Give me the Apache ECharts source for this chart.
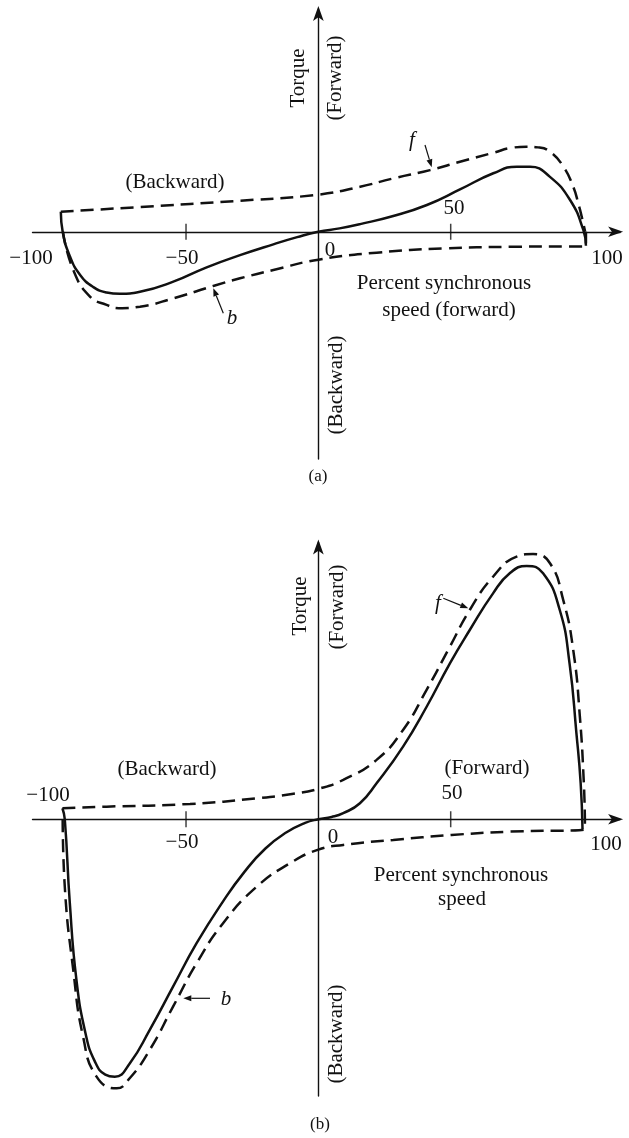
<!DOCTYPE html>
<html>
<head>
<meta charset="utf-8">
<title>Torque vs speed</title>
<script src="https://cdn.jsdelivr.net/npm/echarts@6/dist/echarts.min.js"></script>
<style>
  html, body { margin: 0; padding: 0; background: #fff; }
  #main { width: 629px; height: 1138px; }
</style>
</head>
<body>
<div id="main"></div>
<script>
// (a) percent synchronous speed vs torque, [speed, torque]
var fwdA = [[-97.3, 8.9], [-67.4, 11.0], [-29.6, 13.8], [0, 16.5], [15.8, 20.0], [28.3, 23.7], [42.2, 27.4], [53.5, 31.1], [66.1, 35.1], [73, 37.3], [78.7, 37.8], [83, 37.5], [87.5, 35.6], [92.6, 28.9], [96.3, 20], [98.2, 12.6], [99.5, 6.7], [100.8, 0]]
var resA = [[-97.3, 8.9], [-96.6, 0], [-93.8, -11.1], [-90, -19.2], [-85, -24.6], [-80, -27], [-75, -27.6], [-67.4, -26.7], [-54.8, -22.2], [-42.2, -15.8], [-29.6, -10.4], [-17, -5.6], [-8, -2.4], [0, 0], [8, 1.5], [15.8, 3.4], [28.3, 7.0], [41, 11.9], [53.5, 18.8], [66.1, 26], [75, 28.9], [80, 28.9], [87.5, 24.4], [95.1, 14.1], [100.1, 0.8], [101.1, -6.2]]
var bwdA = [[-96.5, 0], [-92.6, -17], [-86.2, -28.9], [-80, -32.5], [-75.4, -34], [-67.4, -33.3], [-54.8, -29.6], [-39.7, -24.1], [-29.6, -20.7], [-17, -17], [0, -12.4], [22, -9.3], [47.2, -7.4], [72.4, -6.7], [101.1, -6.4], [101.1, 0]]

// (b)
var fwdB = [[-96.7, 4.9], [-80, 5.6], [-48.5, 6.8], [-23.3, 9.3], [-10, 11.2], [0, 13.5], [9.4, 17.5], [22, 26.4], [32, 39.7], [40.9, 57.5], [49.7, 76.7], [57.2, 93], [66, 107.8], [74.9, 116.7], [81.1, 117.9], [87.5, 113.8], [92.5, 97.5], [96.3, 75.2], [98.8, 45.6], [100.3, 16.1], [100.7, 0]]
var resB = [[-96.7, 4.9], [-95.8, 0], [-93.9, -37.3], [-91.4, -71.4], [-88, -95], [-84.5, -107.5], [-80.5, -113.5], [-76.9, -114.4], [-71.2, -108.4], [-63.7, -93.6], [-54.9, -74.4], [-46, -55.1], [-36, -36.5], [-28, -23.5], [-20, -13], [-12, -5.8], [-5, -1.6], [0, 0], [5, 1.0], [9.4, 2.7], [15.7, 7.1], [22, 16], [32, 32.3], [40.9, 50], [49.7, 69.3], [57.2, 84.1], [66, 100.4], [72.3, 109.3], [78.7, 112.6], [84.9, 109.3], [91.2, 93], [94.9, 69.3], [97.5, 38.2], [99.1, 16], [99.8, -4.4]]
var bwdB = [[-96.6, 0], [-95.8, -30], [-92.6, -67], [-88.9, -96.6], [-83.8, -114.4], [-76.2, -119.6], [-71.2, -115], [-63.7, -102.5], [-54.9, -83.3], [-46, -64], [-36, -46.2], [-23.3, -30], [-10.8, -19.6], [0, -13.5], [9.4, -11.4], [28.3, -9.2], [50.3, -7], [72.3, -5.5], [100.7, -4.4], [100.7, 0]]

var tickVals = [-50, 50]
var tickLabels = ['\u2212100', '\u221250', '0', '50', '100']

var FONT = '"Liberation Serif", "DejaVu Serif", serif'
var INK = '#111'

var chart = echarts.init(document.getElementById('main'), null, { renderer: 'canvas' })

function axes(gi, ymin, ymax) {
  var line = { onZero: true, symbol: ['none', 'arrow'], symbolSize: [8, 15], symbolOffset: [0, 3], lineStyle: { color: INK, width: 1.4 } }
  return {
    x: {
      type: 'value', gridIndex: gi, min: -108, max: 114, axisLine: line,
      axisTick: { show: false }, axisLabel: { show: false }, splitLine: { show: false }
    },
    y: {
      type: 'value', gridIndex: gi, min: ymin, max: ymax, axisLine: line,
      axisTick: { show: false }, axisLabel: { show: false }, splitLine: { show: false }
    }
  }
}

var axA = axes(0, -101, 99)
var axB = axes(1, -123, 123)

function curve(name, data, gi, dashed) {
  return {
    name: name, type: 'line', xAxisIndex: gi, yAxisIndex: gi,
    data: data, showSymbol: false, smooth: 0.5, silent: true,
    lineStyle: { color: INK, width: 2.5, type: dashed ? [13, 7] : 'solid' }
  }
}

function ticks(gi) {
  return {
    type: 'scatter', xAxisIndex: gi, yAxisIndex: gi, silent: true,
    symbol: 'rect', symbolSize: [1.5, 16],
    itemStyle: { color: INK },
    data: tickVals.map(function (v) { return [v, 0] })
  }
}

function txt(s, x, y, opt) {
  opt = opt || {}
  return {
    type: 'text', x: x, y: y, rotation: opt.rot || 0, silent: true,
    style: {
      text: s, fill: INK, align: 'center', verticalAlign: 'middle',
      font: (opt.italic ? 'italic ' : '') + (opt.size || 21) + 'px ' + FONT
    }
  }
}

// small annotation arrow, head at (x2, y2)
function arrow(x1, y1, x2, y2) {
  var a = Math.atan2(y2 - y1, x2 - x1)
  var L = 8, W = 3
  var bx = x2 - L * Math.cos(a), by = y2 - L * Math.sin(a)
  return [
    { type: 'line', silent: true, shape: { x1: x1, y1: y1, x2: bx, y2: by }, style: { stroke: INK, lineWidth: 1.2 } },
    { type: 'polygon', silent: true, shape: { points: [[x2, y2], [bx + W * Math.sin(a), by - W * Math.cos(a)], [bx - W * Math.sin(a), by + W * Math.cos(a)]] }, style: { fill: INK } }
  ]
}

var R = Math.PI / 2
var graphics = [
  // (a)
  txt('Torque', 298, 78, { rot: R }),
  txt('(Forward)', 335, 78, { rot: R }),
  txt('(Backward)', 336, 385, { rot: R }),
  txt('(Backward)', 175, 182),
  txt('f', 412, 140, { italic: true }),
  txt('b', 232, 318, { italic: true }),
  txt(tickLabels[0], 31, 258),
  txt(tickLabels[1], 182, 258),
  txt(tickLabels[2], 330, 250),
  txt(tickLabels[3], 454, 208),
  txt(tickLabels[4], 607, 258),
  txt('Percent synchronous', 444, 283),
  txt('speed (forward)', 449, 310),
  txt('(a)', 318, 477, { size: 17 }),
  // (b)
  txt('Torque', 300, 606, { rot: R }),
  txt('(Forward)', 337, 607, { rot: R }),
  txt('(Backward)', 336, 1034, { rot: R }),
  txt('(Backward)', 167, 769),
  txt('(Forward)', 487, 768),
  txt('f', 438, 603, { italic: true }),
  txt('b', 226, 999, { italic: true }),
  txt(tickLabels[0], 48, 795),
  txt(tickLabels[1], 182, 842),
  txt(tickLabels[2], 333, 837),
  txt(tickLabels[3], 452, 793),
  txt(tickLabels[4], 606, 844),
  txt('Percent synchronous', 461, 875),
  txt('speed', 462, 899),
  txt('(b)', 320, 1125, { size: 17 })
]
graphics = graphics.concat(arrow(425, 145, 431.7, 167.3))
graphics = graphics.concat(arrow(223.3, 313.3, 213.3, 288.3))
graphics = graphics.concat(arrow(443.3, 598.3, 468.3, 608.3))
graphics = graphics.concat(arrow(210, 998.3, 183.3, 998.3))

var option = {
  backgroundColor: '#fff',
  animation: false,
  grid: [
    { left: 32.5, top: 9, width: 587.6, height: 450 },
    { left: 32.5, top: 542.5, width: 587.6, height: 553.5 }
  ],
  xAxis: [axA.x, axB.x],
  yAxis: [axA.y, axB.y],
  series: [
    curve('f', fwdA, 0, true),
    curve('b', bwdA, 0, true),
    curve('resultant', resA, 0, false),
    ticks(0),
    curve('f', fwdB, 1, true),
    curve('b', bwdB, 1, true),
    curve('resultant', resB, 1, false),
    ticks(1)
  ],
  graphic: { elements: graphics }
}
chart.setOption(option)
</script>
</body>
</html>
